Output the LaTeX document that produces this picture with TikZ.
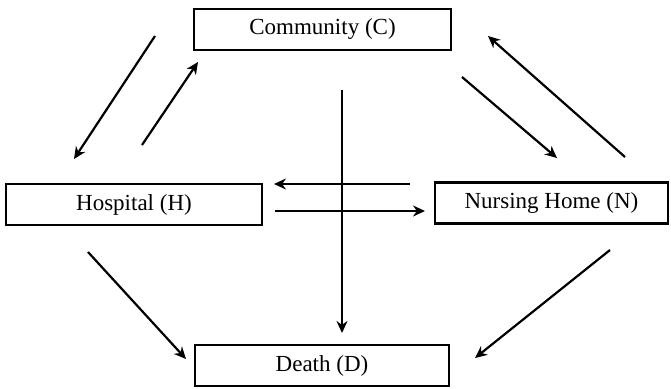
\documentclass[tikz,border=0pt]{standalone}
\usepackage{fontspec}
\setmainfont{Liberation Serif}
\usetikzlibrary{arrows.meta}
\begin{document}
\begin{tikzpicture}[x=1pt,y=-1pt,
  box/.style={draw,line width=2.2pt,minimum height=41pt,inner sep=0pt,font=\fontsize{23}{26}\selectfont},
  arr/.style={line width=2.2pt,-{Stealth[length=12pt,width=11pt]}}]
\useasboundingbox (0,0) rectangle (671,388);
\node[box,minimum width=257pt] (C) at (322.5,29.5) {Community (C)};
\node[box,minimum width=256pt] (H) at (134,204.5) {Hospital (H)};
\node[box,minimum width=233pt] (N) at (551.5,203) {Nursing Home (N)};
\node[box,minimum width=254pt] (D) at (322,365.5) {Death (D)};
% endpoints
\coordinate (c1) at (155,36);  \coordinate (h1) at (74,159);
\coordinate (h2) at (142,145); \coordinate (c2) at (198,62);
\coordinate (c3) at (462,77);  \coordinate (n1) at (557,158);
\coordinate (n2) at (625,157); \coordinate (c4) at (488,36);
\coordinate (n3) at (410,184); \coordinate (h3) at (274,184);
\coordinate (h4) at (275,211); \coordinate (n4) at (425,211);
\coordinate (c5) at (342,90);  \coordinate (d1) at (342,333);
\coordinate (h5) at (88,252);  \coordinate (d2) at (186,359);
\coordinate (n5) at (610,250); \coordinate (d3) at (475,358);
\draw[arr] (c1) -- (h1);
\draw[arr] (h2) -- (c2);
\draw[arr] (c3) -- (n1);
\draw[arr] (n2) -- (c4);
\draw[arr] (n3) -- (h3);
\draw[arr] (h4) -- (n4);
\draw[arr] (c5) -- (d1);
\draw[arr] (h5) -- (d2);
\draw[arr] (n5) -- (d3);
\end{tikzpicture}
\end{document}
